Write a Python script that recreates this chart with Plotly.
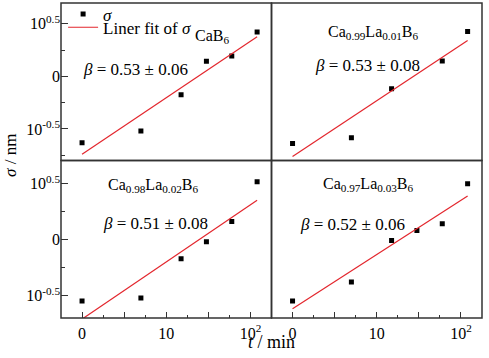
import numpy as np
import plotly.graph_objects as go

# ---- data (t in min, sigma in nm) ----
t_full = [1, 5, 15, 30, 60, 120]
t_099 = [1, 5, 15, 60, 120]

sigma_CaB6 = [0.234, 0.302, 0.667, 1.390, 1.563, 2.636]
sigma_099 = [0.230, 0.261, 0.760, 1.400, 2.667]
sigma_098 = [0.283, 0.301, 0.676, 0.959, 1.455, 3.296]
sigma_097 = [0.283, 0.418, 0.986, 1.211, 1.390, 3.162]

labels = ["CaB<sub>6</sub>",
          "Ca<sub>0.99</sub>La<sub>0.01</sub>B<sub>6</sub>",
          "Ca<sub>0.98</sub>La<sub>0.02</sub>B<sub>6</sub>",
          "Ca<sub>0.97</sub>La<sub>0.03</sub>B<sub>6</sub>"]
betas = ["0.53 ± 0.06", "0.53 ± 0.08", "0.51 ± 0.08", "0.52 ± 0.06"]

x_tickvals = [1, 10**0.5, 10, 10**1.5, 100]
x_ticktext = ["0", "", "10", "", "10<sup>2</sup>"]
x_minor = [10**0.25, 10**0.75, 10**1.25, 10**1.75]
y_tickvals = [10**-0.5, 1, 10**0.5]
y_ticktext = ["10<sup>-0.5</sup>", "0", "10<sup>0.5</sup>"]
y_minor = [10**-0.75, 10**-0.25, 10**0.25]

FONT = "Liberation Serif"
AX = "#333333"
RED = "#e3262d"

W, H = 489, 358
ML, MR, MT, MB = 61, 7, 3, 40
xdom = {1: [0, 0.5], 2: [0.5, 1]}
ydom = {1: [0.5, 1], 2: [0, 0.5]}
yranges = {1: [-0.80, 0.697], 2: [-0.70, 0.708]}

panels = [(t_full, sigma_CaB6, 1, 1), (t_099, sigma_099, 1, 2),
          (t_full, sigma_098, 2, 1), (t_full, sigma_097, 2, 2)]

fig = go.Figure()
layout_axes = {}
for i, (t, s, r, c) in enumerate(panels):
    n = i + 1
    xa = "x" if n == 1 else f"x{n}"
    ya = "y" if n == 1 else f"y{n}"
    lx = np.log10(t)
    ly = np.log10(s)
    k, b = np.polyfit(lx, ly, 1)
    fit_x = [t[0], t[-1]]
    fit_y = [10 ** (b + k * np.log10(v)) for v in fit_x]
    fig.add_trace(go.Scatter(x=t, y=s, mode="markers", xaxis=xa, yaxis=ya,
                             marker=dict(symbol="square", size=5, color="black"),
                             name="<i>σ</i>", showlegend=(i == 0), legend="legend"))
    fig.add_trace(go.Scatter(x=fit_x, y=fit_y, mode="lines", xaxis=xa, yaxis=ya,
                             line=dict(color=RED, width=1.2),
                             name="Liner fit of <i>σ</i>", showlegend=(i == 0), legend="legend2"))
    bottom = (r == 2)
    left = (c == 1)
    layout_axes["xaxis" if n == 1 else f"xaxis{n}"] = dict(
        domain=xdom[c], anchor=ya, type="log", range=[-0.25, 2.25], automargin=False,
        showline=False, showgrid=False, zeroline=False,
        tickmode="array", tickvals=x_tickvals, ticktext=x_ticktext, showticklabels=bottom,
        ticks="inside" if bottom else "", ticklen=6, tickwidth=1.2, tickcolor=AX,
        ticklabelstandoff=4,
        minor=dict(tickmode="array", tickvals=x_minor, ticks="inside" if bottom else "",
                   ticklen=3, tickwidth=1.2, tickcolor=AX, showgrid=False),
        tickfont=dict(family=FONT, size=16, color="black"))
    layout_axes["yaxis" if n == 1 else f"yaxis{n}"] = dict(
        domain=ydom[r], anchor=xa, type="log", range=yranges[r], automargin=False,
        showline=False, showgrid=False, zeroline=False,
        tickmode="array", tickvals=y_tickvals, ticktext=y_ticktext, showticklabels=left,
        ticks="inside" if left else "", ticklen=7, tickwidth=1.2, tickcolor=AX,
        minor=dict(tickmode="array", tickvals=y_minor, ticks="inside" if left else "",
                   ticklen=4, tickwidth=1.2, tickcolor=AX, showgrid=False),
        tickfont=dict(family=FONT, size=16, color="black"))
    # panel frame
    fig.add_shape(type="rect", xref=xa + " domain", yref=ya + " domain",
                  x0=0, x1=1, y0=0, y1=1, line=dict(color=AX, width=1.5), layer="above")

fig.update_layout(**layout_axes)

# panel annotations (axis-domain coordinates)
pos = [((0.719, 0.79), (0.355, 0.575), "x", "y"),
       ((0.481, 0.81), (0.455, 0.606), "x2", "y2"),
       ((0.436, 0.84), (0.45, 0.601), "x3", "y3"),
       ((0.457, 0.845), (0.383, 0.595), "x4", "y4")]
for (lab, bet, (p1, p2, xr, yr)) in zip(labels, betas, pos):
    fig.add_annotation(text=lab, x=p1[0], y=p1[1], xref=xr + " domain", yref=yr + " domain",
                       xanchor="center", yanchor="middle",
                       showarrow=False, font=dict(family=FONT, size=16, color="black"))
    fig.add_annotation(text="<i>β</i> = " + bet, x=p2[0], y=p2[1], xref=xr + " domain",
                       yref=yr + " domain", xanchor="center", yanchor="middle", showarrow=False,
                       font=dict(family=FONT, size=17, color="black"))

fig.add_annotation(text="<i>σ</i> / nm", x=-0.120, y=0.516, xref="paper", yref="paper",
                   xanchor="center", yanchor="middle",
                   textangle=-90, showarrow=False, font=dict(family=FONT, size=17, color="black"))
fig.add_annotation(text="<i>t</i> / min", x=0.5, y=-0.076, xref="paper", yref="paper",
                   xanchor="center", yanchor="middle",
                   showarrow=False, font=dict(family=FONT, size=18, color="black"))

leg_common = dict(xanchor="left", yanchor="middle", bgcolor="rgba(0,0,0,0)",
                  font=dict(family=FONT, size=17, color="black"), itemwidth=30)
fig.update_layout(width=W, height=H, margin=dict(l=ML, r=MR, t=MT, b=MB, autoexpand=False),
                  plot_bgcolor="white", paper_bgcolor="white",
                  legend=dict(x=0.005, y=0.964, **leg_common),
                  legend2=dict(x=0.005, y=0.9216, **leg_common))

fig.write_html("out.html", config={"displayModeBar": False},
               post_script="document.body.style.margin='0px';")
